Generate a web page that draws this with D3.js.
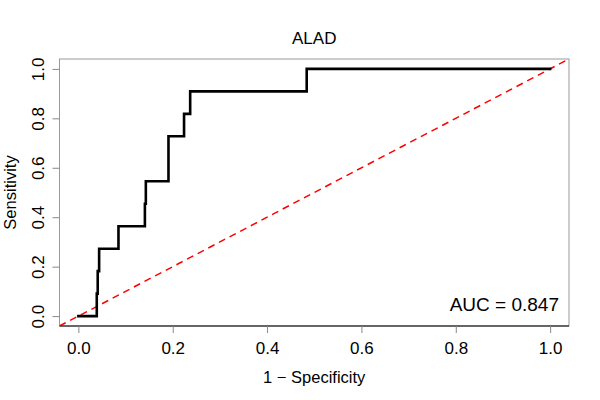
<!DOCTYPE html>
<html>
<head>
<meta charset="utf-8">
<script src="https://cdn.jsdelivr.net/npm/d3@7"></script>
<style>
  body { margin: 0; background: #fff; }
  svg { font-family: "Liberation Sans", Arial, sans-serif; }
</style>
</head>
<body>
<div id="rocGraph"></div>
<script>
// ROC points (1 - specificity, sensitivity)
const fprValues = [0, 0.039, 0.041, 0.044, 0.085, 0.141, 0.143, 0.191, 0.224, 0.237, 0.484, 1.0];
const tprValues = [0, 1 / 11, 2 / 11, 3 / 11, 4 / 11, 5 / 11, 6 / 11, 8 / 11, 9 / 11, 10 / 11, 1.0, 1.0];
const tickValues = [0, 0.2, 0.4, 0.6, 0.8, 1.0];
const titleText = 'ALAD';
const aucText = 'AUC = 0.847';

const width = 600;
const height = 400;
const margin = { top: 59, right: 31, bottom: 74, left: 59.5 };

const svg = d3.select('#rocGraph')
  .append('svg')
    .attr('width', width)
    .attr('height', height);

const x = d3.scaleLinear()
    .domain([-0.04, 1.04])
    .range([margin.left, width - margin.right]);

const y = d3.scaleLinear()
    .domain([-0.04, 1.04])
    .range([height - margin.bottom, margin.top]);

const rocPoints = fprValues.map((fpr, i) => [fpr, tprValues[i]]);

svg.append('clipPath')
    .attr('id', 'plotClip')
  .append('rect')
    .attr('x', x.range()[0])
    .attr('y', y.range()[1])
    .attr('width', x.range()[1] - x.range()[0])
    .attr('height', y.range()[0] - y.range()[1]);

// chance line
svg.append('line')
    .attr('clip-path', 'url(#plotClip)')
    .attr('x1', x(-0.04))
    .attr('y1', y(-0.04))
    .attr('x2', x(1.04))
    .attr('y2', y(1.04))
    .attr('stroke', '#ff0000')
    .attr('stroke-width', 1.5)
    .attr('stroke-dasharray', '7,5');

// ROC curve
const line = d3.line()
    .x((d) => x(d[0]))
    .y((d) => y(d[1]))
    .curve(d3.curveStepAfter);

svg.append('path')
    .datum(rocPoints)
    .attr('d', line)
    .attr('fill', 'none')
    .attr('stroke', '#000')
    .attr('stroke-width', 2.6)
    .attr('stroke-linejoin', 'miter')
    .attr('stroke-linecap', 'square');

// plot box
svg.append('rect')
    .attr('x', x.range()[0])
    .attr('y', y.range()[1])
    .attr('width', x.range()[1] - x.range()[0])
    .attr('height', y.range()[0] - y.range()[1])
    .attr('fill', 'none')
    .attr('stroke', '#999')
    .attr('stroke-width', 1);

svg.append('line')
    .attr('x1', x.range()[0])
    .attr('x2', x.range()[1])
    .attr('y1', y.range()[0])
    .attr('y2', y.range()[0])
    .attr('stroke', '#000')
    .attr('stroke-width', 1);

// axes
const xAxis = svg.append('g')
    .attr('transform', 'translate(0,' + y.range()[0] + ')')
    .call(d3.axisBottom(x)
      .tickValues(tickValues)
      .tickFormat(d3.format('.1f'))
      .tickSize(7)
      .tickPadding(9));

const yAxis = svg.append('g')
    .attr('transform', 'translate(' + x.range()[0] + ',0)')
    .call(d3.axisLeft(y)
      .tickValues(tickValues)
      .tickFormat(d3.format('.1f'))
      .tickSize(7));

[xAxis, yAxis].forEach((axis) => {
  axis.select('.domain').remove();
  axis.selectAll('.tick line').attr('stroke', '#888');
  axis.selectAll('.tick text')
      .attr('fill', '#000')
      .style('font-size', '17px')
      .style('font-family', '"Liberation Sans", Arial, sans-serif');
});

yAxis.selectAll('.tick text')
    .attr('x', null)
    .attr('dy', null)
    .attr('text-anchor', 'middle')
    .attr('transform', 'translate(-16,0) rotate(-90)');

// labels
svg.append('text')
    .attr('x', (x.range()[0] + x.range()[1]) / 2)
    .attr('y', 44)
    .attr('text-anchor', 'middle')
    .style('font-size', '17px')
    .text(titleText);

svg.append('text')
    .attr('x', (x.range()[0] + x.range()[1]) / 2)
    .attr('y', 383)
    .attr('text-anchor', 'middle')
    .style('font-size', '16.5px')
    .text('1 \u2212 Specificity');

svg.append('text')
    .attr('transform', 'translate(16,' + (y.range()[0] + y.range()[1]) / 2 + ') rotate(-90)')
    .attr('text-anchor', 'middle')
    .style('font-size', '16.5px')
    .text('Sensitivity');

svg.append('text')
    .attr('x', 559)
    .attr('y', 311)
    .attr('text-anchor', 'end')
    .style('font-size', '19px')
    .text(aucText);
</script>
</body>
</html>
